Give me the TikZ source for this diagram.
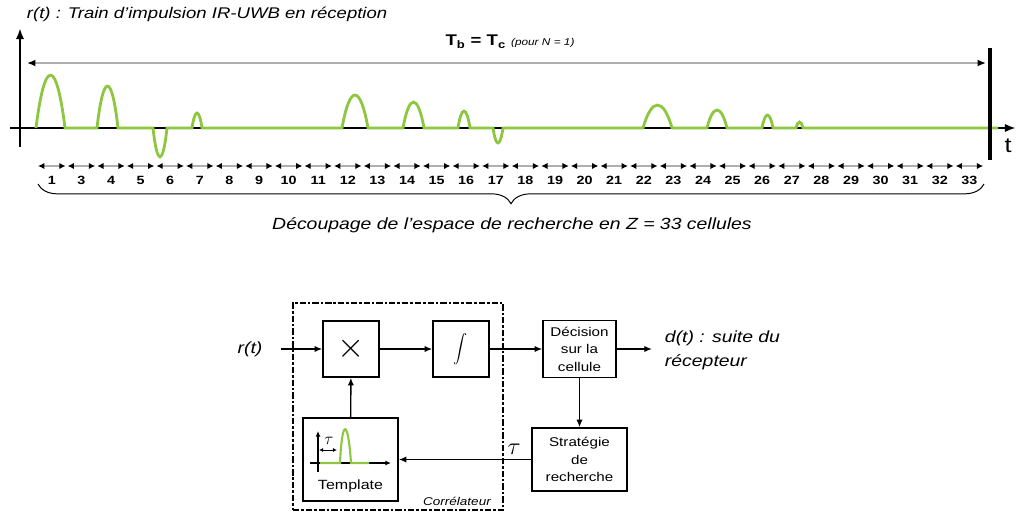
\documentclass[tikz,border=0pt]{standalone}
\usepackage{fontspec}
\setmainfont{Liberation Sans}[FakeStretch=1.2]
\usetikzlibrary{arrows.meta,positioning,decorations.pathreplacing}
\definecolor{pulsegreen}{RGB}{141,198,63}
\definecolor{linegray}{RGB}{175,175,175}
\newcommand{\fsz}[2]{\fontsize{#1}{#2}\selectfont}
% one green bump on the time axis: start x, end x, peak y
\newcommand{\bump}[3]{-- (#1,128) .. controls ({#1+0.3*(#2-#1)},{128+(#3-128)*1.33}) and ({#2-0.3*(#2-#1)},{128+(#3-128)*1.33}) .. (#2,128)}
\begin{document}
\begin{tikzpicture}[x=0.025cm, y=-0.025cm,
  axis/.style={draw=black, line width=2pt},
  pulse/.style={draw=pulsegreen, line width=2pt},
  tbline/.style={draw=linegray, line width=2pt, arrows={Latex[black,length=6pt,width=5pt]-Latex[black,length=6pt,width=5pt]}},
  cell/.style={draw=linegray, line width=1.2pt, arrows={Latex[black,length=4.5pt,width=4.5pt]-Latex[black,length=4.5pt,width=4.5pt]}},
  block/.style={draw, line width=1pt, align=center, inner sep=1pt, font=\fsz{9}{12.5}},
  conn/.style={line width=1pt, -{Latex[length=5.5pt,width=4.5pt]}},
  mini/.style={line width=0.8pt, -{Latex[length=4pt,width=3.5pt]}}]
\useasboundingbox (0,0) rectangle (1017,512);

% signal recu
\node[anchor=west, font=\fsz{11}{13}\itshape] (title) at (22,14) {r(t) : Train d'impulsion IR-UWB en réception};
\node[font=\fsz{11}{13}\bfseries] (tblab) at (510,42) {T\textsubscript{b} = T\textsubscript{c} {\fsz{7}{8}\mdseries\itshape (pour N = 1)}};
\coordinate (tbl) at (27,63);
\coordinate (tbr) at (986,63);
\draw[tbline] (tbl) -- (tbr);

\coordinate (ybot) at (20,147);
\coordinate (ytop) at (20,28);
\coordinate (xbeg) at (10,128);
\coordinate (xend) at (1016,128);
\draw[axis, -{Latex[length=8pt,width=6pt]}] (ybot) -- (ytop);
\draw[axis, -{Latex[length=8pt,width=6pt]}] (xbeg) -- (xend);
\draw[pulse] (36,128) \bump{36}{65}{75} \bump{97}{118}{86} \bump{153}{167}{157} \bump{192}{202}{113}
  \bump{342}{368}{95} \bump{403}{424}{102} \bump{458}{470}{111} \bump{493}{503}{143}
  \bump{643}{672}{105} \bump{707}{727}{110} \bump{762}{773}{115} \bump{796}{803}{122} -- (998,128);
\coordinate (bartop) at (990,48);
\coordinate (barbot) at (990,160);
\draw[line width=2.5pt] (bartop) -- (barbot);
\node[font=\fsz{15}{17}] (tlab) at (1008,146) {t};

% cellules
\foreach \lab [count=\i] in {1,3,4,5,6,7,8,9,10,11,12,13,14,15,16,17,18,19,20,21,22,23,24,25,26,27,28,29,30,31,32,33} {
  \coordinate (cl\i) at ({37+(\i-1)*29.6+1},166);
  \coordinate (cr\i) at ({37+\i*29.6-1},166);
  \draw[cell] (cl\i) -- (cr\i);
  \node[font=\fsz{8.5}{9}\bfseries] (lab\i) at ({37+(\i-0.5)*29.6},180) {\lab};
}
\coordinate (bl) at (38,184);
\coordinate (br) at (984,184);
\draw[line width=0.7pt, decorate, decoration={brace, mirror, amplitude=14pt}] (bl) -- (br);
\node[font=\fsz{11.5}{13}\itshape] (decoup) at (512,225) {Découpage de l'espace de recherche en Z = 33 cellules};

% schema du correlateur
\node[draw, line width=1pt, dash pattern=on 4.5pt off 1.4pt on 1.8pt off 1.4pt, minimum width=5.25cm, minimum height=5.175cm] (corrbox) at (398,406.5) {};
\node[font=\fsz{8}{9}\itshape] (corrlab) at (457,501) {Corrélateur};
\node[block, minimum width=1.4cm, minimum height=1.4cm, font=\fsz{30}{30}] (mult) at (351,349) {$\times$};
\node[block, minimum width=1.4cm, minimum height=1.4cm, font=\fsz{13}{13}] (integ) at (461,349) {$\displaystyle\int$};
\node[block, minimum width=1.825cm, minimum height=1.425cm] (decis) at (579.5,349) {Décision\\sur la\\cellule};
\node[block, minimum width=2.375cm, minimum height=1.575cm] (strat) at (579.5,459.5) {Stratégie\\de\\recherche};
\node[block, minimum width=2.375cm, minimum height=2.075cm] (templ) at (350.5,459.5) {};
\node[font=\fsz{9.5}{11}] (templtxt) at (350.5,486) {Template};
\node[font=\fsz{11.5}{14}\itshape] (rt) at (250,349) {r(t)};
\coordinate (dout) at (652,349);
\node[anchor=west, align=left, font=\fsz{11.5}{17}\itshape] (dt) at (660,350) {d(t) : suite du\\récepteur};

\draw[conn, shorten <=10pt] (rt) -- (mult);
\draw[conn] (mult) -- (integ);
\draw[conn] (integ) -- (decis);
\draw[conn] (decis) -- (dout);
\draw[conn] (decis) -- (strat);
\draw[conn] (strat) -- node[pos=0.13, above, font=\fsz{16}{16}] (taulab) {$\tau$} (templ);
\draw[conn] (templ) -- (mult);

% petit template
\coordinate (ma0) at (318,472);
\coordinate (ma1) at (318,431);
\coordinate (mb0) at (310,463);
\coordinate (mb1) at (391,463);
\draw[mini] (ma0) -- (ma1);
\draw[mini] (mb0) -- (mb1);
\draw[pulsegreen, line width=1.5pt] (320,463) -- (340,463) .. controls (342,418) and (348,418) .. (351,463) -- (369,463);
\coordinate (tau0) at (319,450);
\coordinate (tau1) at (337,450);
\draw[line width=0.7pt, arrows={Latex[length=3pt,width=3pt]-Latex[length=3pt,width=3pt]}] (tau0) -- (tau1);
\node[font=\fsz{12}{12}] (tausmall) at (329,441) {$\tau$};
\end{tikzpicture}
\end{document}
